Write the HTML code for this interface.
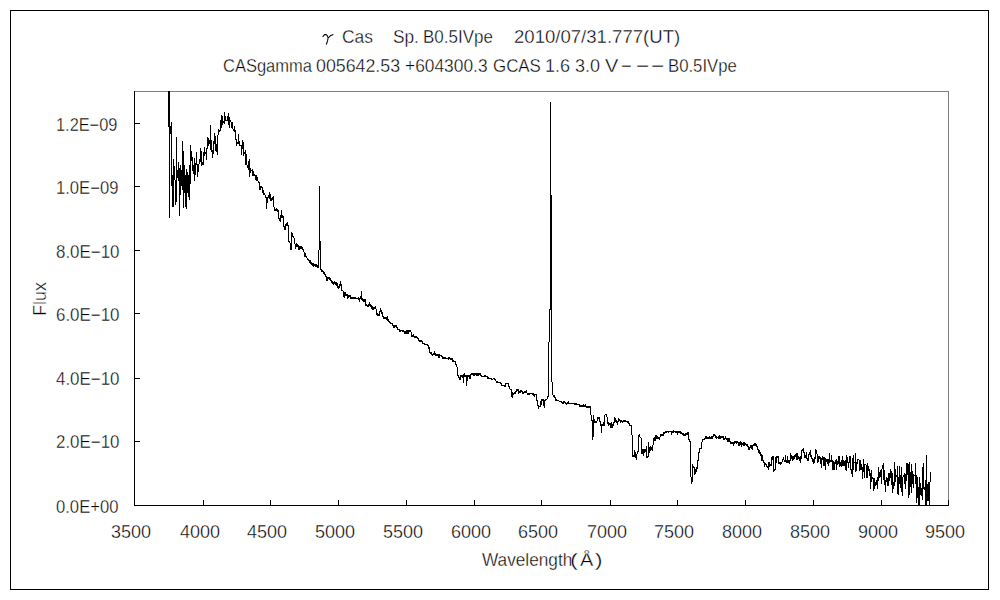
<!DOCTYPE html>
<html><head><meta charset="utf-8">
<style>
html,body{margin:0;padding:0;background:#fff;}
svg{display:block;}
text{font-family:"Liberation Sans",sans-serif;fill:#000;stroke:#fff;stroke-width:0.35px;}
</style></head>
<body>
<svg width="1000" height="600" viewBox="0 0 1000 600">
<rect x="0" y="0" width="1000" height="600" fill="#fff"/>
<g shape-rendering="crispEdges" fill="none" stroke-width="1">
<rect x="10.5" y="10.5" width="978" height="579" stroke="#000"/>
<rect x="134.5" y="91.5" width="814" height="414" stroke="#808080"/>
<path d="M134.5 91 V505.5 H949" stroke="#000"/>
<path stroke="#000" d="M135 123.5h5M135 186.5h5M135 250.5h5M135 313.5h5M135 378.5h5M135 441.5h5M203.5 500v5M270.5 500v5M338.5 500v5M406.5 500v5M474.5 500v5M541.5 500v5M610.5 500v5M677.5 500v5M745.5 500v5M813.5 500v5M881.5 500v5M948.5 500v5"/>
</g>
<path d="M322.6 36.8 L324.6 34.6 L326.2 34.6 L327.4 35.8 L328.1 37.8 L327.7 40.2 L327.1 42.3 L326.2 44.6 M328.3 37.9 L330.8 35.4 L333.4 34.6" fill="none" stroke="#000" stroke-width="1.05" stroke-linejoin="round"/>
<text id="t_cas" x="342.00" y="43" font-size="18" textLength="30.95" lengthAdjust="spacingAndGlyphs">Cas</text>
<text id="t_sp" x="393.00" y="43" font-size="18" textLength="25.90" lengthAdjust="spacingAndGlyphs">Sp.</text>
<text id="t_b1" x="423.00" y="43" font-size="18" textLength="69.89" lengthAdjust="spacingAndGlyphs">B0.5IVpe</text>
<text id="t_date" x="514.00" y="43" font-size="18" textLength="166.18" lengthAdjust="spacingAndGlyphs">2010/07/31.777(UT)</text>
<text id="l_cas" x="223.00" y="72" font-size="18" textLength="88.95" lengthAdjust="spacingAndGlyphs">CASgamma</text>
<text id="l_ra" x="316.00" y="72" font-size="18" textLength="84.07" lengthAdjust="spacingAndGlyphs">005642.53</text>
<text id="l_dec" x="405.00" y="72" font-size="18" textLength="82.54" lengthAdjust="spacingAndGlyphs">+604300.3</text>
<text id="l_gcas" x="493.00" y="72" font-size="18" textLength="47.89" lengthAdjust="spacingAndGlyphs">GCAS</text>
<text id="l_16" x="545.00" y="72" font-size="18" textLength="25.03" lengthAdjust="spacingAndGlyphs">1.6</text>
<text id="l_30" x="575.00" y="72" font-size="18" textLength="25.03" lengthAdjust="spacingAndGlyphs">3.0</text>
<text id="l_v" x="605.00" y="72" font-size="18" textLength="13.31" lengthAdjust="spacingAndGlyphs">V</text>
<text id="l_d1" x="621.00" y="72" font-size="18" textLength="10.65" lengthAdjust="spacingAndGlyphs">−</text>
<text id="l_d2" x="636.00" y="72" font-size="18" textLength="13.14" lengthAdjust="spacingAndGlyphs">−</text>
<text id="l_d3" x="651.00" y="72" font-size="18" textLength="13.14" lengthAdjust="spacingAndGlyphs">−</text>
<text id="l_b2" x="668.00" y="72" font-size="18" textLength="68.85" lengthAdjust="spacingAndGlyphs">B0.5IVpe</text>
<text id="y0" x="56.00" y="131" font-size="18" textLength="61.34" lengthAdjust="spacingAndGlyphs">1.2E−09</text>
<text id="y1" x="56.00" y="194" font-size="18" textLength="62.37" lengthAdjust="spacingAndGlyphs">1.0E−09</text>
<text id="y2" x="56.00" y="258" font-size="18" textLength="63.47" lengthAdjust="spacingAndGlyphs">8.0E−10</text>
<text id="y3" x="56.00" y="321" font-size="18" textLength="63.47" lengthAdjust="spacingAndGlyphs">6.0E−10</text>
<text id="y4" x="56.00" y="385" font-size="18" textLength="63.47" lengthAdjust="spacingAndGlyphs">4.0E−10</text>
<text id="y5" x="56.00" y="448" font-size="18" textLength="63.47" lengthAdjust="spacingAndGlyphs">2.0E−10</text>
<text id="y6" x="56.00" y="513" font-size="18" textLength="62.44" lengthAdjust="spacingAndGlyphs">0.0E+00</text>
<text id="x0" x="111.00" y="538" font-size="18" textLength="40.05" lengthAdjust="spacingAndGlyphs">3500</text>
<text id="x1" x="180.00" y="538" font-size="18" textLength="40.05" lengthAdjust="spacingAndGlyphs">4000</text>
<text id="x2" x="247.00" y="538" font-size="18" textLength="40.05" lengthAdjust="spacingAndGlyphs">4500</text>
<text id="x3" x="315.00" y="538" font-size="18" textLength="40.05" lengthAdjust="spacingAndGlyphs">5000</text>
<text id="x4" x="383.00" y="538" font-size="18" textLength="40.05" lengthAdjust="spacingAndGlyphs">5500</text>
<text id="x5" x="451.00" y="538" font-size="18" textLength="40.05" lengthAdjust="spacingAndGlyphs">6000</text>
<text id="x6" x="518.00" y="538" font-size="18" textLength="40.05" lengthAdjust="spacingAndGlyphs">6500</text>
<text id="x7" x="587.00" y="538" font-size="18" textLength="40.05" lengthAdjust="spacingAndGlyphs">7000</text>
<text id="x8" x="654.00" y="538" font-size="18" textLength="40.05" lengthAdjust="spacingAndGlyphs">7500</text>
<text id="x9" x="722.00" y="538" font-size="18" textLength="40.05" lengthAdjust="spacingAndGlyphs">8000</text>
<text id="x10" x="790.00" y="538" font-size="18" textLength="40.05" lengthAdjust="spacingAndGlyphs">8500</text>
<text id="x11" x="858.00" y="538" font-size="18" textLength="40.05" lengthAdjust="spacingAndGlyphs">9000</text>
<text id="x12" x="925.00" y="538" font-size="18" textLength="40.05" lengthAdjust="spacingAndGlyphs">9500</text>
<text id="xt" x="482.00" y="566" font-size="18" textLength="90.29" lengthAdjust="spacingAndGlyphs">Wavelength</text>
<text id="xt2" x="570.00" y="566" font-size="18" textLength="7.81" lengthAdjust="spacingAndGlyphs">(</text>
<text id="xt3" x="580.00" y="566" font-size="18" textLength="13.31" lengthAdjust="spacingAndGlyphs">Å</text>
<text id="xt4" x="595.00" y="566" font-size="18" textLength="7.50" lengthAdjust="spacingAndGlyphs">)</text>
<text id="yt" transform="translate(46,313) rotate(-90)" x="-3.00" y="0" font-size="18" textLength="34.02" lengthAdjust="spacingAndGlyphs">Flux</text>
<path d="M168.5 91V127M169.5 91V218M170.5 126V134M171.5 122V186M172.5 175V207M173.5 159V207M174.5 166V180M175.5 180V205M176.5 137V202M177.5 170V178M178.5 162V181M179.5 168V216M180.5 165V195M181.5 170V186M182.5 141V190M183.5 151V208M184.5 165V193M185.5 175V207M186.5 169V209M187.5 172V193M188.5 175V197M189.5 165V200M190.5 145V184M191.5 151V161M192.5 157V171M193.5 165V174M194.5 158V181M195.5 163V175M196.5 152V165M197.5 164V177M198.5 164V172M199.5 159V164M200.5 148V162M201.5 151V166M202.5 162V165M203.5 152V165M204.5 147V156M205.5 152V154M206.5 148V160M207.5 137V149M208.5 138V146M209.5 140V144M210.5 125V150M211.5 140V152M212.5 150V158M213.5 141V154M214.5 133V144M215.5 136V151M216.5 144V152M217.5 135V155M218.5 129V135M219.5 130V132M220.5 120V131M221.5 115V128M222.5 116V125M223.5 121V123M224.5 112V124M225.5 116V121M226.5 120V121M227.5 116V121M228.5 113V125M229.5 117V128M230.5 120V122M231.5 122V128M232.5 122V129M233.5 129V131M234.5 126V132M235.5 130V140M236.5 139V146M237.5 142V144M238.5 134V144M239.5 141V146M240.5 145V146M241.5 145V155M242.5 140V149M243.5 142V156M244.5 152V154M245.5 150V165M246.5 154V165M247.5 165V168M248.5 161V170M249.5 159V177M250.5 168V173M251.5 170V171M252.5 169V176M253.5 171V176M254.5 174V176M255.5 175V180M256.5 175V181M257.5 177V181M258.5 181V183M259.5 182V190M260.5 186V190M261.5 186V188M262.5 187V193M263.5 190V195M264.5 193V195M265.5 195V198M266.5 197V209M267.5 197V203M268.5 195V198M269.5 192V199M270.5 194V201M271.5 198V201M272.5 197V200M273.5 196V207M274.5 207V211M275.5 209V211M276.5 208V211M277.5 209V212M278.5 210V219M279.5 218V221M280.5 215V222M281.5 210V218M282.5 215V218M283.5 216V227M284.5 226V230M285.5 224V230M286.5 223V226M287.5 222V226M288.5 225V242M289.5 241V243M290.5 243V250M291.5 232V250M292.5 233V237M293.5 236V238M294.5 238V244M295.5 244V249M296.5 243V247M297.5 244V247M298.5 245V250M299.5 246V250M300.5 246V249M301.5 246V249M302.5 247V250M303.5 249V252M304.5 252V257M305.5 253V257M306.5 256V258M307.5 258V260M308.5 259V261M309.5 260V263M310.5 260V264M311.5 262V265M312.5 263V266M313.5 263V267M314.5 264V266M315.5 264V267M316.5 264V267M317.5 265V268M318.5 250V268M319.5 186V250M320.5 241V270M321.5 269V272M322.5 270V272M323.5 271V274M324.5 272V275M325.5 274V277M326.5 276V281M327.5 277V281M328.5 277V279M329.5 277V280M330.5 278V281M331.5 280V283M332.5 281V284M333.5 282V285M334.5 281V284M335.5 282V285M336.5 282V286M337.5 283V288M338.5 286V289M339.5 284V288M340.5 281V286M341.5 284V291M342.5 290V291M343.5 291V297M344.5 292V298M345.5 292V296M346.5 294V296M347.5 294V299M348.5 295V298M349.5 295V297M350.5 295V299M351.5 297V299M352.5 297V299M353.5 297V299M354.5 297V299M355.5 297V299M356.5 298V299M357.5 298V299M358.5 297V300M359.5 298V302M360.5 296V299M361.5 291V300M362.5 298V301M363.5 299V302M364.5 299V302M365.5 299V306M366.5 304V306M367.5 305V307M368.5 304V307M369.5 302V306M370.5 304V307M371.5 305V309M372.5 306V310M373.5 307V310M374.5 307V309M375.5 306V309M376.5 309V315M377.5 313V316M378.5 314V316M379.5 311V316M380.5 308V312M381.5 310V314M382.5 312V317M383.5 316V319M384.5 317V319M385.5 317V319M386.5 317V320M387.5 316V321M388.5 319V322M389.5 321V323M390.5 322V324M391.5 323V324M392.5 323V326M393.5 325V328M394.5 325V328M395.5 325V327M396.5 325V328M397.5 327V330M398.5 329V330M399.5 329V332M400.5 330V332M401.5 330V331M402.5 330V332M403.5 330V332M404.5 331V334M405.5 331V334M406.5 330V334M407.5 330V334M408.5 330V334M409.5 330V332M410.5 330V332M411.5 332V337M412.5 335V337M413.5 334V337M414.5 336V338M415.5 336V338M416.5 336V338M417.5 337V339M418.5 338V341M419.5 340V342M420.5 340V342M421.5 340V342M422.5 341V344M423.5 343V344M424.5 343V345M425.5 344V345M426.5 344V345M427.5 344V346M428.5 345V349M429.5 347V353M430.5 352V354M431.5 352V355M432.5 354V356M433.5 353V355M434.5 351V355M435.5 353V356M436.5 354V356M437.5 354V356M438.5 354V358M439.5 354V358M440.5 355V356M441.5 355V357M442.5 356V359M443.5 357V359M444.5 357V359M445.5 357V359M446.5 358V359M447.5 358V359M448.5 357V360M449.5 357V359M450.5 358V360M451.5 358V360M452.5 358V362M453.5 360V362M454.5 361V362M455.5 361V365M456.5 364V367M457.5 367V376M458.5 375V378M459.5 377V380M460.5 375V380M461.5 375V377M462.5 375V378M463.5 374V383M464.5 373V377M465.5 375V377M466.5 375V386M467.5 375V381M468.5 375V377M469.5 375V379M470.5 374V379M471.5 373V375M472.5 373V375M473.5 373V376M474.5 373V376M475.5 373V375M476.5 373V376M477.5 373V376M478.5 373V376M479.5 373V375M480.5 373V376M481.5 375V377M482.5 376V377M483.5 376V377M484.5 375V377M485.5 375V377M486.5 376V377M487.5 376V379M488.5 377V379M489.5 378V379M490.5 378V379M491.5 378V380M492.5 379V380M493.5 378V379M494.5 378V380M495.5 379V381M496.5 381V383M497.5 381V383M498.5 382V383M499.5 382V383M500.5 382V384M501.5 383V386M502.5 385V386M503.5 385V386M504.5 385V387M505.5 383V387M506.5 383V384M507.5 383V384M508.5 383V387M509.5 386V389M510.5 389V390M511.5 389V397M512.5 392V398M513.5 393V395M514.5 392V394M515.5 391V394M516.5 389V392M517.5 389V391M518.5 389V394M519.5 391V393M520.5 390V393M521.5 390V392M522.5 391V394M523.5 392V394M524.5 391V393M525.5 391V393M526.5 390V393M527.5 393V395M528.5 393V395M529.5 393V395M530.5 393V394M531.5 393V394M532.5 393V395M533.5 393V396M534.5 394V397M535.5 394V395M536.5 394V401M537.5 400V406M538.5 405V409M539.5 406V407M540.5 401V407M541.5 399V405M542.5 399V401M543.5 399V406M544.5 400V408M545.5 399V401M546.5 399V400M547.5 396V399M548.5 342V397M549.5 309V342M550.5 102V310M551.5 195V382M552.5 382V395M553.5 395V397M554.5 395V398M555.5 397V401M556.5 399V401M557.5 400V401M558.5 400V401M559.5 401V402M560.5 401V402M561.5 401V403M562.5 402V404M563.5 401V404M564.5 401V403M565.5 402V404M566.5 403V405M567.5 402V404M568.5 401V404M569.5 403V404M570.5 403V404M571.5 403V404M572.5 403V404M573.5 403V404M574.5 403V405M575.5 403V405M576.5 403V405M577.5 404V405M578.5 404V405M579.5 404V407M580.5 405V407M581.5 405V407M582.5 405V407M583.5 404V407M584.5 405V407M585.5 404V407M586.5 406V408M587.5 406V408M588.5 406V408M589.5 406V408M590.5 406V415M591.5 415V421M592.5 420V440M593.5 415V437M594.5 419V423M595.5 421V423M596.5 421V423M597.5 417V421M598.5 417V419M599.5 417V422M600.5 421V426M601.5 424V433M602.5 424V426M603.5 422V426M604.5 415V426M605.5 414V415M606.5 414V417M607.5 417V424M608.5 422V426M609.5 423V425M610.5 423V428M611.5 422V428M612.5 424V428M613.5 422V426M614.5 417V423M615.5 418V422M616.5 420V423M617.5 421V425M618.5 418V422M619.5 419V421M620.5 420V423M621.5 420V422M622.5 421V423M623.5 420V422M624.5 420V422M625.5 420V422M626.5 421V422M627.5 421V423M628.5 421V424M629.5 423V426M630.5 425V426M631.5 425V435M632.5 435V457M633.5 455V457M634.5 450V457M635.5 452V458M636.5 454V460M637.5 451V454M638.5 435V452M639.5 434V437M640.5 437V438M641.5 438V454M642.5 449V454M643.5 449V456M644.5 449V453M645.5 449V452M646.5 446V458M647.5 456V458M648.5 442V457M649.5 447V453M650.5 446V451M651.5 447V450M652.5 445V451M653.5 438V445M654.5 437V441M655.5 435V441M656.5 435V439M657.5 436V439M658.5 437V439M659.5 437V440M660.5 434V437M661.5 434V436M662.5 434V436M663.5 432V436M664.5 432V434M665.5 431V433M666.5 431V433M667.5 431V432M668.5 431V433M669.5 431V432M670.5 431V432M671.5 431V435M672.5 431V433M673.5 430V433M674.5 431V432M675.5 431V433M676.5 431V433M677.5 431V435M678.5 431V433M679.5 431V433M680.5 431V434M681.5 432V434M682.5 433V435M683.5 433V436M684.5 434V436M685.5 433V436M686.5 433V435M687.5 432V435M688.5 432V440M689.5 439V442M690.5 441V477M691.5 477V484M692.5 464V482M693.5 466V468M694.5 467V475M695.5 469V474M696.5 467V472M697.5 460V469M698.5 452V461M699.5 448V453M700.5 448V449M701.5 442V449M702.5 439V442M703.5 439V440M704.5 438V440M705.5 436V439M706.5 436V439M707.5 437V439M708.5 437V439M709.5 436V439M710.5 437V439M711.5 436V439M712.5 436V439M713.5 434V437M714.5 434V436M715.5 435V438M716.5 436V439M717.5 437V438M718.5 436V439M719.5 435V439M720.5 436V439M721.5 436V438M722.5 436V438M723.5 436V440M724.5 438V440M725.5 436V439M726.5 438V440M727.5 438V442M728.5 438V442M729.5 438V442M730.5 441V444M731.5 442V444M732.5 442V444M733.5 442V446M734.5 441V444M735.5 441V443M736.5 441V444M737.5 441V443M738.5 442V446M739.5 442V446M740.5 441V445M741.5 442V447M742.5 443V445M743.5 442V446M744.5 442V446M745.5 443V445M746.5 444V446M747.5 444V447M748.5 446V450M749.5 447V450M750.5 445V448M751.5 445V449M752.5 445V450M753.5 444V446M754.5 443V446M755.5 443V446M756.5 444V447M757.5 446V450M758.5 449V453M759.5 450V454M760.5 452V456M761.5 454V461M762.5 455V461M763.5 460V463M764.5 462V467M765.5 463V465M766.5 464V467M767.5 466V468M768.5 462V470M769.5 462V467M770.5 464V466M771.5 457V466M772.5 456V460M773.5 456V472M774.5 469V471M775.5 457V470M776.5 456V463M777.5 456V458M778.5 456V464M779.5 462V464M780.5 462V465M781.5 462V464M782.5 459V462M783.5 457V460M784.5 460V462M785.5 455V462M786.5 460V463M787.5 456V463M788.5 460V463M789.5 460V464M790.5 453V461M791.5 455V459M792.5 456V461M793.5 456V460M794.5 455V459M795.5 454V457M796.5 453V460M797.5 453V460M798.5 456V459M799.5 457V461M800.5 456V463M801.5 450V459M802.5 449V451M803.5 448V453M804.5 452V458M805.5 455V458M806.5 452V459M807.5 458V461M808.5 454V461M809.5 452V455M810.5 450V457M811.5 455V459M812.5 458V462M813.5 459V464M814.5 457V463M815.5 449V459M816.5 450V454M817.5 454V463M818.5 456V462M819.5 456V459M820.5 457V464M821.5 458V468M822.5 456V460M823.5 457V466M824.5 457V466M825.5 458V470M826.5 459V462M827.5 459V464M828.5 459V466M829.5 453V463M830.5 460V462M831.5 455V462M832.5 460V470M833.5 461V470M834.5 462V470M835.5 460V464M836.5 459V470M837.5 461V465M838.5 456V464M839.5 456V467M840.5 462V466M841.5 460V467M842.5 456V466M843.5 460V466M844.5 461V466M845.5 460V470M846.5 455V471M847.5 457V463M848.5 462V468M849.5 456V463M850.5 456V470M851.5 469V474M852.5 458V477M853.5 455V470M854.5 462V463M855.5 453V472M856.5 462V471M857.5 459V464M858.5 459V460M859.5 460V471M860.5 460V470M861.5 464V470M862.5 467V479M863.5 459V472M864.5 464V478M865.5 464V465M866.5 465V478M867.5 463V478M868.5 466V471M869.5 469V476M870.5 473V489M871.5 470V482M872.5 477V479M873.5 478V491M874.5 478V489M875.5 482V486M876.5 480V485M877.5 477V489M878.5 467V481M879.5 472V478M880.5 470V477M881.5 469V484M882.5 465V469M883.5 463V480M884.5 470V485M885.5 480V492M886.5 477V482M887.5 478V486M888.5 473V486M889.5 473V481M890.5 469V478M891.5 471V485M892.5 473V493M893.5 482V489M894.5 462V486M895.5 469V482M896.5 475V477M897.5 466V494M898.5 477V495M899.5 466V484M900.5 475V488M901.5 467V492M902.5 477V496M903.5 475V477M904.5 473V484M905.5 474V489M906.5 463V481M907.5 463V475M908.5 464V498M909.5 462V495M910.5 472V487M911.5 464V493M912.5 471V484M913.5 474V488M914.5 475V476M915.5 463V484M916.5 475V503M917.5 477V498M918.5 487V505M919.5 477V505M920.5 483V495M921.5 488V496M922.5 467V500M923.5 463V489M924.5 487V490M925.5 480V505M926.5 455V505M927.5 484V501M928.5 482V501M929.5 482V505M930.5 472V482" stroke="#000" stroke-width="1" fill="none" shape-rendering="crispEdges"/>
</svg>
</body></html>
